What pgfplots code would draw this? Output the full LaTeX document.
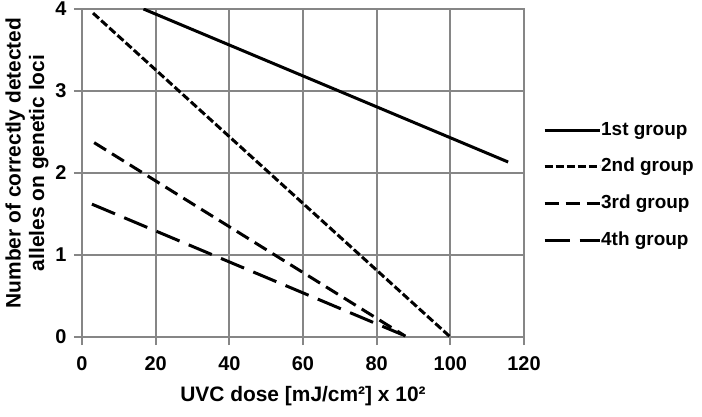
\documentclass[border=0pt]{standalone}
\usepackage{fontspec}
\setmainfont{Liberation Sans}[BoldFont={Liberation Sans Bold}]
\usepackage{pgfplots}
\pgfplotsset{compat=1.18}
\definecolor{gridgray}{RGB}{134,134,134}

\begin{document}
\begin{tikzpicture}[font=\bfseries]
\begin{axis}[
  scale only axis,
  width=442bp, height=328bp,
  xmin=0, xmax=120, ymin=0, ymax=4,
  xtick={0,20,...,120}, ytick={0,1,2,3,4},
  xtick pos=bottom, ytick pos=left,
  grid=major,
  grid style={gridgray, line width=2bp},
  axis line style={gridgray, line width=2bp},
  tick style={gridgray, line width=2bp},
  tick align=outside,
  major tick length=8bp,
  /pgf/number format/assume math mode=true,
  ticklabel style={font=\fontsize{20}{20}\selectfont\bfseries},
  xticklabel style={yshift=-8bp},
  yticklabel style={xshift=-4bp},
  label style={font=\fontsize{21}{23.5}\selectfont\bfseries},
  xlabel={UVC dose [mJ/cm²] x 10²},
  xlabel style={yshift=-9bp},
  ylabel={Number of correctly detected\\alleles on genetic loci},
  ylabel style={align=center, xshift=10bp},
  legend image code/.code={\draw[#1] (0bp,0bp) -- (55bp,0bp);},
  legend cell align=left,
  legend style={at={(1.043,0.6585)}, anchor=north west, draw=none, fill=none,
    inner sep=0pt, row sep=18.7bp,
    font=\fontsize{19}{19}\selectfont\bfseries,
    nodes={inner sep=0pt, text height=14bp, text depth=4bp},
    /tikz/every even column/.append style={column sep=2bp}},
]
\addplot[black, line width=3bp] coordinates {(16.7,4.0) (115.7,2.134)};
\addplot[black, line width=3bp, dash pattern=on 8bp off 3bp] coordinates {(3.0,3.95) (100.0,0.0)};
\addplot[black, line width=3bp, dash pattern=on 14bp off 7bp] coordinates {(3.3,2.37) (87.8,0.01)};
\addplot[black, line width=3bp, dash pattern=on 25bp off 10bp] coordinates {(2.7,1.62) (86.9,0.03)};
\legend{1st group, 2nd group, 3rd group, 4th group}
\end{axis}
\pgfresetboundingbox
\path[use as bounding box] (-82bp,-80bp) rectangle (620bp,337bp);
\end{tikzpicture}
\end{document}
